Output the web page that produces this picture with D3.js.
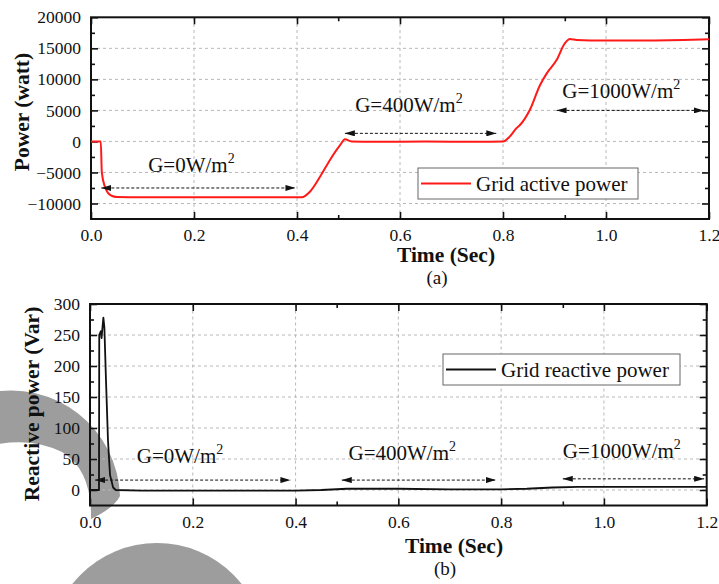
<!DOCTYPE html>
<html>
<head>
<meta charset="utf-8">
<script src="https://cdn.jsdelivr.net/npm/d3@7"></script>
<style>
body { margin: 0; background: #fff; }
svg, svg text { font-family: "Liberation Serif", "Times New Roman", serif; }
</style>
</head>
<body>
<svg id="chart" width="719" height="584"></svg>
<script>
// (a) grid active power (watt) vs time (s)
let active_time = [0, 0.019, 0.021, 0.027, 0.033, 0.04, 0.05, 0.1, 0.2, 0.3, 0.409, 0.425, 0.445, 0.464, 0.484, 0.493, 0.506, 0.55, 0.65, 0.75, 0.8, 0.813, 0.826, 0.833, 0.852, 0.872, 0.885, 0.904, 0.92, 0.93, 0.943, 0.97, 1.05, 1.15, 1.2]
let active_power = [0, 0, -5000, -7300, -8300, -8750, -8950, -9000, -9000, -9000, -9000, -8100, -5650, -2980, -560, 350, 0, -50, -30, -40, 0, 770, 2120, 2650, 5070, 9100, 10970, 13100, 15800, 16500, 16330, 16250, 16250, 16350, 16450]

// (b) grid reactive power (Var) vs time (s)
let reactive_time = [0, 0.0175, 0.018, 0.021, 0.0225, 0.026, 0.028, 0.031, 0.035, 0.039, 0.045, 0.05, 0.1, 0.2, 0.3, 0.4, 0.45, 0.5, 0.6, 0.7, 0.8, 0.85, 0.9, 0.95, 1.0, 1.1, 1.2]
let reactive_power = [0, 0, 250, 256, 245, 278, 262, 180, 80, 24, 4, 0, -1, -1, -1, -1, 0, 2, 2, 1, 1, 2, 4, 5, 5, 5, 5]

let time_ticks = [0, 0.2, 0.4, 0.6, 0.8, 1.0, 1.2]
let time_minor = [0.48, 0.92]
let active_ticks = [-10000, -5000, 0, 5000, 10000, 15000, 20000]
let active_minor = [-7500, -2500, 2500, 7500, 12500, 17500]
let reactive_ticks = [0, 50, 100, 150, 200, 250, 300]
let reactive_minor = [25, 75, 125, 175, 225, 275]

// irradiance steps: label and the time span of each arrow
let irradiance = ["G=0W/m", "G=400W/m", "G=1000W/m"]
let active_spans = [[0.02, 0.397], [0.493, 0.787], [0.904, 1.19]]
let reactive_spans = [[0.01, 0.39], [0.49, 0.79], [0.92, 1.195]]

let svg = d3.select("#chart")

function draw_blobs() {
  // grey shapes lying behind the figure
  let g = svg.append("g").attr("fill", "#9d9d9d")
  g.append("path")
    .attr("d", "M-12,393 A109,109 0 0 1 120,496 Q114,508 91,519 Q92,470 62,452 Q30,436 -12,446 Z")
  g.append("circle").attr("cx", 157).attr("cy", 651).attr("r", 108)
}

function draw_panel(p) {
  let g = svg.append("g")
  let x = d3.scaleLinear().domain([0, 1.2]).range(p.xr)
  let y = d3.scaleLinear().domain(p.yd).range(p.yr)

  // grid
  g.selectAll("line.gx").data(time_ticks.slice(1, -1)).enter().append("line")
    .attr("class", "gx")
    .attr("x1", d => x(d)).attr("x2", d => x(d))
    .attr("y1", p.yr[0]).attr("y2", p.yr[1])
  g.selectAll("line.gy").data(p.ticks.slice(0, -1)).enter().append("line")
    .attr("class", "gy")
    .attr("x1", p.xr[0]).attr("x2", p.xr[1])
    .attr("y1", d => y(d)).attr("y2", d => y(d))
  g.selectAll("line.gx, line.gy")
    .attr("stroke", "#b8b8b8").attr("stroke-width", 1).attr("stroke-dasharray", "3,3")

  // axes, ticks pointing inward
  let axes = [
    [d3.axisBottom(x).tickValues(time_ticks).tickFormat(d3.format(".1f")), `translate(0,${p.yr[0]})`, 7, true],
    [d3.axisBottom(x).tickValues(time_minor), `translate(0,${p.yr[0]})`, 4, false],
    [d3.axisTop(x).tickValues(time_ticks), `translate(0,${p.yr[1]})`, 7, false],
    [d3.axisTop(x).tickValues(time_minor), `translate(0,${p.yr[1]})`, 4, false],
    [d3.axisLeft(y).tickValues(p.ticks).tickFormat(d3.format("d")), `translate(${p.xr[0]},0)`, 7, true],
    [d3.axisLeft(y).tickValues(p.minor), `translate(${p.xr[0]},0)`, 4, false],
    [d3.axisRight(y).tickValues(p.ticks), `translate(${p.xr[1]},0)`, 7, false],
    [d3.axisRight(y).tickValues(p.minor), `translate(${p.xr[1]},0)`, 4, false]
  ]
  for (let a of axes) {
    let ax = a[0].tickSize(-a[2]).tickPadding(10)
    if (!a[3]) ax.tickFormat("")
    let ag = g.append("g").attr("transform", a[1]).call(ax)
      .attr("font-family", null).attr("font-size", null)
    ag.select(".domain").remove()
    ag.selectAll("line").attr("stroke", "#111").attr("stroke-width", 1.6)
    ag.selectAll("text").attr("font-size", 17.5).attr("fill", "#111")
  }

  g.append("rect")
    .attr("x", p.xr[0]).attr("y", p.yr[1])
    .attr("width", p.xr[1] - p.xr[0]).attr("height", p.yr[0] - p.yr[1])
    .attr("fill", "none").attr("stroke", "#111").attr("stroke-width", 2)

  // series
  let line = d3.line().x(d => x(d[0])).y(d => y(d[1])).curve(p.curve)
  g.append("path")
    .datum(d3.zip(p.time, p.values))
    .attr("d", line)
    .attr("fill", "none").attr("stroke", p.color).attr("stroke-width", p.width)
    .attr("stroke-linejoin", "round")

  // irradiance arrows
  g.selectAll("line.span").data(p.spans).enter().append("line")
    .attr("class", "span")
    .attr("x1", d => x(d[0])).attr("x2", d => x(d[1]))
    .attr("y1", (d, i) => y(p.arrow_y[i])).attr("y2", (d, i) => y(p.arrow_y[i]))
    .attr("stroke", "#111").attr("stroke-width", 1).attr("stroke-dasharray", "3,2")
    .attr("marker-start", "url(#head)").attr("marker-end", "url(#head)")

  let labels = g.selectAll("text.g").data(irradiance).enter().append("text")
    .attr("class", "g")
    .attr("x", (d, i) => x(p.label_at[i][0]))
    .attr("y", (d, i) => y(p.label_at[i][1]))
    .attr("font-size", 21).attr("fill", "#111")
  labels.append("tspan").text(d => d)
  labels.append("tspan").text("2").attr("font-size", 14).attr("dy", -9)

  // legend
  let lg = g.append("g").attr("transform", `translate(${p.legend[0]},${p.legend[1]})`)
  lg.append("rect").attr("width", p.legend[2]).attr("height", 31)
    .attr("fill", "#fff").attr("stroke", "#666").attr("stroke-width", 1)
  lg.append("line").attr("x1", 3).attr("x2", 53).attr("y1", 15.5).attr("y2", 15.5)
    .attr("stroke", p.color).attr("stroke-width", p.width)
  lg.append("text").attr("x", 58).attr("y", 23).attr("font-size", 21).attr("fill", "#111")
    .text(p.name)

  // titles
  g.append("text")
    .attr("transform", `translate(${p.ytitle[0]},${p.ytitle[1]}) rotate(-90)`)
    .attr("text-anchor", "middle").attr("font-size", 21.5).attr("font-weight", "bold")
    .attr("fill", "#111").text(p.ylabel)
  g.append("text")
    .attr("x", p.xtitle[0]).attr("y", p.xtitle[1])
    .attr("text-anchor", "middle").attr("font-size", 21.5).attr("font-weight", "bold")
    .attr("fill", "#111").text("Time (Sec)")
  g.append("text")
    .attr("x", p.xtitle[0] - 9).attr("y", p.xtitle[1] + 22)
    .attr("text-anchor", "middle").attr("font-size", 19)
    .attr("fill", "#111").text(p.tag)
}

svg.append("defs").append("marker")
  .attr("id", "head")
  .attr("viewBox", "0 0 10 6")
  .attr("refX", 10).attr("refY", 3)
  .attr("markerWidth", 10).attr("markerHeight", 6)
  .attr("markerUnits", "userSpaceOnUse")
  .attr("orient", "auto-start-reverse")
  .append("path").attr("d", "M0,0 L10,3 L0,6 Z").attr("fill", "#111")

draw_blobs()

draw_panel({
  xr: [91, 709], yr: [219, 17.3], yd: [-12500, 20000],
  ticks: active_ticks, minor: active_minor,
  time: active_time, values: active_power,
  color: "#ff1a1a", width: 2, curve: d3.curveMonotoneX,
  spans: active_spans, arrow_y: [-7500, 1300, 5000],
  label_at: [[0.111, -4900], [0.513, 4750], [0.915, 7000]],
  legend: [418, 168, 220], name: "Grid active power",
  ylabel: "Power (watt)", ytitle: [29, 112],
  xtitle: [446, 262], tag: "(a)"
})

draw_panel({
  xr: [90, 706.7], yr: [505.5, 304], yd: [-25, 300],
  ticks: reactive_ticks, minor: reactive_minor,
  time: reactive_time, values: reactive_power,
  color: "#111", width: 1.8, curve: d3.curveLinear,
  spans: reactive_spans, arrow_y: [16, 16, 18],
  label_at: [[0.091, 43], [0.503, 48], [0.92, 52]],
  legend: [443, 354, 237], name: "Grid reactive power",
  ylabel: "Reactive power (Var)", ytitle: [39, 404],
  xtitle: [454, 553], tag: "(b)"
})
</script>
</body>
</html>
